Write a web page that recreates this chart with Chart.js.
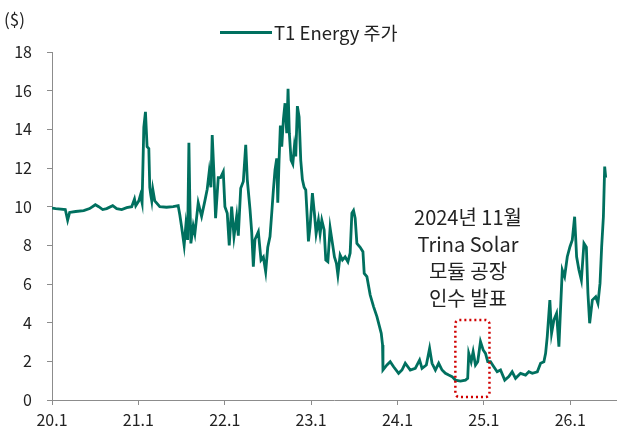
<!DOCTYPE html>
<html>
<head>
<meta charset="utf-8">
<script src="https://cdn.jsdelivr.net/npm/chart.js@4.4.1/dist/chart.umd.min.js"></script>
<style>
  body { margin: 0; background: #fff; }
  #wrap { width: 617px; height: 430px; position: relative; }
</style>
</head>
<body>
<div id="wrap"><canvas id="stock"></canvas></div>
<script>
// T1 Energy price (x = years since 2020.1)
var years = [
  0.000, 0.042, 0.154, 0.181, 0.204, 0.274, 0.367, 0.436, 0.502, 0.541,
  0.587, 0.633, 0.703, 0.749, 0.807, 0.865, 0.923, 0.955, 0.970, 1.005,
  1.024, 1.043, 1.063, 1.082, 1.101, 1.121, 1.132, 1.144, 1.155, 1.167,
  1.190, 1.248, 1.326, 1.403, 1.461, 1.480, 1.500, 1.530, 1.550, 1.570,
  1.585, 1.596, 1.608, 1.635, 1.654, 1.693, 1.732, 1.770, 1.797, 1.820,
  1.840, 1.855, 1.875, 1.894, 1.925, 1.952, 1.983, 2.002, 2.029, 2.052,
  2.080, 2.107, 2.138, 2.157, 2.185, 2.215, 2.243, 2.261, 2.293, 2.312,
  2.331, 2.350, 2.389, 2.420, 2.447, 2.474, 2.498, 2.524, 2.544, 2.563,
  2.582, 2.602, 2.614, 2.629, 2.644, 2.660, 2.679, 2.698, 2.718, 2.733,
  2.748, 2.768, 2.788, 2.806, 2.822, 2.841, 2.861, 2.880, 2.899, 2.919,
  2.938, 2.957, 2.969, 2.988, 3.015, 3.038, 3.058, 3.085, 3.104, 3.124,
  3.151, 3.170, 3.194, 3.220, 3.247, 3.270, 3.293, 3.310, 3.336, 3.363,
  3.394, 3.426, 3.452, 3.472, 3.491, 3.510, 3.530, 3.568, 3.600, 3.615,
  3.646, 3.684, 3.723, 3.762, 3.792, 3.812, 3.827, 3.832, 3.878, 3.916,
  3.955, 4.013, 4.052, 4.090, 4.148, 4.206, 4.256, 4.284, 4.334, 4.372,
  4.400, 4.439, 4.477, 4.516, 4.555, 4.593, 4.632, 4.671, 4.729, 4.787,
  4.813, 4.825, 4.853, 4.876, 4.903, 4.929, 4.961, 4.992, 5.019, 5.045,
  5.077, 5.115, 5.154, 5.193, 5.242, 5.289, 5.328, 5.367, 5.425, 5.483,
  5.521, 5.561, 5.619, 5.657, 5.695, 5.715, 5.734, 5.764, 5.784, 5.811,
  5.842, 5.869, 5.889, 5.908, 5.935, 5.966, 5.997, 6.024, 6.051, 6.074,
  6.101, 6.129, 6.159, 6.187, 6.205, 6.225, 6.256, 6.295, 6.321, 6.345,
  6.364, 6.384, 6.399, 6.411
];
var prices = [
  9.93, 9.90, 9.85, 9.30, 9.70, 9.75, 9.80, 9.90, 10.10, 10.00,
  9.85, 9.90, 10.05, 9.90, 9.85, 9.95, 10.00, 10.40, 10.05, 10.30,
  10.60, 10.20, 14.10, 14.90, 13.10, 13.00, 11.00, 10.60, 10.30, 10.90,
  10.30, 10.00, 9.97, 10.00, 10.05, 9.57, 8.97, 8.00, 9.05, 8.28,
  13.30, 10.30, 8.10, 9.00, 8.60, 10.20, 9.50, 10.30, 10.90, 11.80,
  11.00, 13.70, 11.70, 9.40, 11.50, 11.50, 11.80, 10.00, 9.66, 8.00,
  10.00, 8.45, 9.50, 8.50, 10.95, 11.30, 13.20, 11.40, 9.83, 8.70,
  6.90, 8.30, 8.70, 7.24, 7.40, 6.64, 7.90, 8.45, 9.66, 10.86,
  11.90, 12.50, 10.20, 12.40, 14.20, 13.10, 14.50, 15.35, 13.80, 16.10,
  13.80, 12.40, 12.20, 13.10, 12.60, 15.20, 14.65, 12.40, 11.40, 11.00,
  10.86, 9.30, 8.20, 8.97, 10.70, 9.66, 8.60, 9.30, 8.60, 9.30,
  8.80, 7.24, 7.15, 8.90, 8.10, 7.40, 7.07, 6.47, 7.50, 7.24,
  7.40, 7.15, 7.60, 9.66, 9.80, 9.40, 8.10, 7.90, 7.67, 6.55,
  6.38, 5.43, 4.83, 4.31, 3.80, 3.45, 2.85, 1.55, 1.81, 1.98,
  1.72, 1.38, 1.55, 1.90, 1.55, 1.64, 2.07, 1.64, 1.81, 2.67,
  1.90, 1.55, 1.90, 1.55, 1.38, 1.29, 1.21, 1.03, 0.98, 1.03,
  1.12, 2.41, 1.98, 2.50, 1.81, 1.98, 3.02, 2.59, 2.41, 1.98,
  1.98, 1.72, 1.46, 1.55, 1.03, 1.21, 1.46, 1.12, 1.38, 1.29,
  1.46, 1.38, 1.46, 1.90, 1.98, 2.41, 3.28, 5.17, 3.45, 4.14,
  4.48, 2.76, 4.83, 6.72, 6.38, 7.41, 7.93, 8.28, 9.48, 7.41,
  6.72, 6.20, 8.10, 7.90, 5.52, 3.97, 5.17, 5.34, 5.00, 6.03,
  7.93, 9.48, 12.07, 11.50
];
var tickLabels = ["20.1", "21.1", "22.1", "23.1", "24.1", "25.1", "26.1"];
var seriesName = "T1 Energy 주가";
var noteLines = ["2024년 11월", "Trina Solar", "모듈 공장", "인수 발표"];

var lineColor = "#00705f";
var axisColor = "#8c8c8c";
var fontFamily = "'Noto Sans CJK KR', 'Noto Sans', sans-serif";

var points = years.map(function (x, i) { return { x: x, y: prices[i] }; });

// legend, unit label and the dotted-box note
var extras = {
    id: "extras",
    afterDraw: function (chart) {
        var c = chart.ctx;
        var xs = chart.scales.x, ys = chart.scales.y;
        c.save();
        c.fillStyle = "#222";
        c.font = "17px " + fontFamily;
        c.textBaseline = "middle";
        c.textAlign = "left";
        c.fillText("($)", 4, 20);

        // legend
        c.fillStyle = lineColor;
        c.fillRect(220, 31, 52, 3);
        c.fillStyle = "#222";
        c.font = "18.5px " + fontFamily;
        c.fillText(seriesName, 274, 33);

        // note text
        c.textAlign = "center";
        c.font = "20px " + fontFamily;
        noteLines.forEach(function (t, i) {
            c.fillText(t, 468, 217 + i * 27);
        });

        // red dotted box around Nov 2024
        var x0 = xs.getPixelForValue(4.67), x1 = xs.getPixelForValue(5.065);
        var y0 = ys.getPixelForValue(4.14), y1 = ys.getPixelForValue(0.15);
        c.strokeStyle = "#d00000";
        c.lineWidth = 2.5;
        c.setLineDash([2, 3]);
        c.beginPath();
        if (c.roundRect) c.roundRect(x0, y0, x1 - x0, y1 - y0, 4);
        else c.rect(x0, y0, x1 - x0, y1 - y0);
        c.stroke();
        c.restore();
    }
};

new Chart(document.getElementById("stock"), {
    type: "line",
    data: {
        datasets: [
            {
                label: seriesName,
                data: points,
                borderColor: lineColor,
                backgroundColor: lineColor,
                borderWidth: 2.8,
                pointRadius: 0,
                tension: 0,
            },
        ],
    },
    options: {
        responsive: true,
        maintainAspectRatio: false,
        animation: false,
        layout: { padding: { top: 52, right: 1, left: 0, bottom: 0 } },
        plugins: {
            legend: { display: false },
            tooltip: { enabled: false },
        },
        scales: {
            x: {
                type: "linear",
                min: 0,
                max: 6.53,
                afterBuildTicks: function (scale) {
                    scale.ticks = tickLabels.map(function (l, i) { return { value: i }; });
                },
                afterFit: function (scale) { scale.height = 30; },
                grid: { drawOnChartArea: false, drawTicks: true, tickLength: 5, color: axisColor },
                border: { color: axisColor, width: 1 },
                ticks: {
                    autoSkip: false,
                    maxRotation: 0,
                    padding: 5,
                    color: "#222",
                    font: { family: fontFamily, size: 16 },
                    callback: function (v) { return tickLabels[Math.round(v)]; },
                },
            },
            y: {
                min: 0,
                max: 18,
                afterFit: function (scale) { scale.width = 52; },
                grid: { drawOnChartArea: false, drawTicks: true, tickLength: 5, color: axisColor },
                border: { color: axisColor, width: 1 },
                ticks: {
                    stepSize: 2,
                    padding: 15,
                    color: "#222",
                    font: { family: fontFamily, size: 16 },
                },
            },
        },
    },
    plugins: [extras],
});
</script>
</body>
</html>
